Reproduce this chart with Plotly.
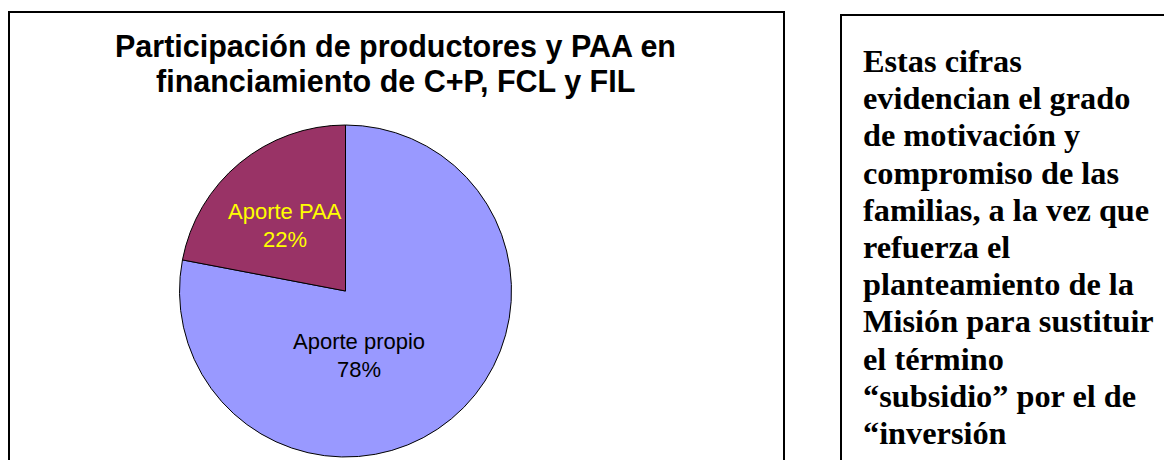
import plotly.graph_objects as go

# ---- data ----
labels = ["Aporte propio", "Aporte PAA"]
values = [78, 22]
slice_colors = ["#9999FF", "#993366"]
label_colors = ["#000000", "#FFFF00"]

title_lines = [
    "Participación de productores y PAA en",
    "financiamiento de C+P, FCL y FIL",
]
note_lines = [
    "Estas cifras",
    "evidencian el grado",
    "de motivación y",
    "compromiso de las",
    "familias, a la vez que",
    "refuerza el",
    "planteamiento de la",
    "Misión para sustituir",
    "el término",
    "“subsidio” por el de",
    "“inversión",
]

W, H = 1164, 460


def px(x):
    return x / W


def py(y):
    return 1 - y / H


SANS = "Liberation Sans, Arial, sans-serif"
SERIF = "Liberation Serif, Times New Roman, serif"

# pie geometry (pixels)
cx, cy, r = 345.5, 291.0, 166.0

fig = go.Figure(
    go.Pie(
        labels=labels,
        values=values,
        sort=False,
        direction="clockwise",
        rotation=0,
        marker=dict(colors=slice_colors, line=dict(color="#000000", width=1)),
        textinfo="none",
        hoverinfo="label+percent",
        showlegend=False,
        domain=dict(x=[px(cx - r), px(cx + r)], y=[py(cy + r), py(cy - r)]),
    )
)

annotations = []
# title
title_font = 30.5
title_base = [57.5, 92.5]
for line, yb in zip(title_lines, title_base):
    annotations.append(dict(
        text=f"<b>{line}</b>", x=px(395), y=py(yb - 0.3465 * title_font),
        xref="paper", yref="paper",
        xanchor="center", yanchor="middle", showarrow=False,
        font=dict(family=SANS, size=title_font, color="#000000"),
    ))

# slice labels
label_pos = [(358.5, 341.4, 369.4), (284.5, 211.4, 239.4)]
total = sum(values)
for i, (lx, y1, y2) in enumerate(label_pos):
    pct = round(values[i] / total * 100)
    for txt, yy in ((labels[i], y1), (f"{pct}%", y2)):
        annotations.append(dict(
            text=txt, x=px(lx), y=py(yy), xref="paper", yref="paper",
            xanchor="center", yanchor="middle", showarrow=False,
            font=dict(family=SANS, size=22, color=label_colors[i]),
        ))

# note text on the right
note_font = 32.3
first_base, step = 72.0, 37.2
for k, line in enumerate(note_lines):
    base = first_base + k * step
    annotations.append(dict(
        text=f"<b>{line}</b>", x=px(861), y=py(base - 0.3375 * note_font),
        xref="paper", yref="paper",
        xanchor="left", yanchor="middle", showarrow=False,
        font=dict(family=SERIF, size=note_font, color="#000000"),
    ))

shapes = [
    dict(type="rect", xref="paper", yref="paper",
         x0=px(9), x1=px(784), y0=py(520), y1=py(12),
         line=dict(color="#000000", width=2), fillcolor="rgba(0,0,0,0)"),
    dict(type="rect", xref="paper", yref="paper",
         x0=px(841), x1=px(1220), y0=py(520), y1=py(15),
         line=dict(color="#000000", width=2), fillcolor="rgba(0,0,0,0)"),
]

fig.update_layout(
    width=W, height=H,
    margin=dict(l=0, r=0, t=0, b=0),
    paper_bgcolor="#FFFFFF", plot_bgcolor="#FFFFFF",
    annotations=annotations, shapes=shapes,
)

fig.write_html(
    "out.html",
    config={"displayModeBar": False},
    post_script="document.body.style.margin='0';document.body.style.overflow='hidden';",
)
